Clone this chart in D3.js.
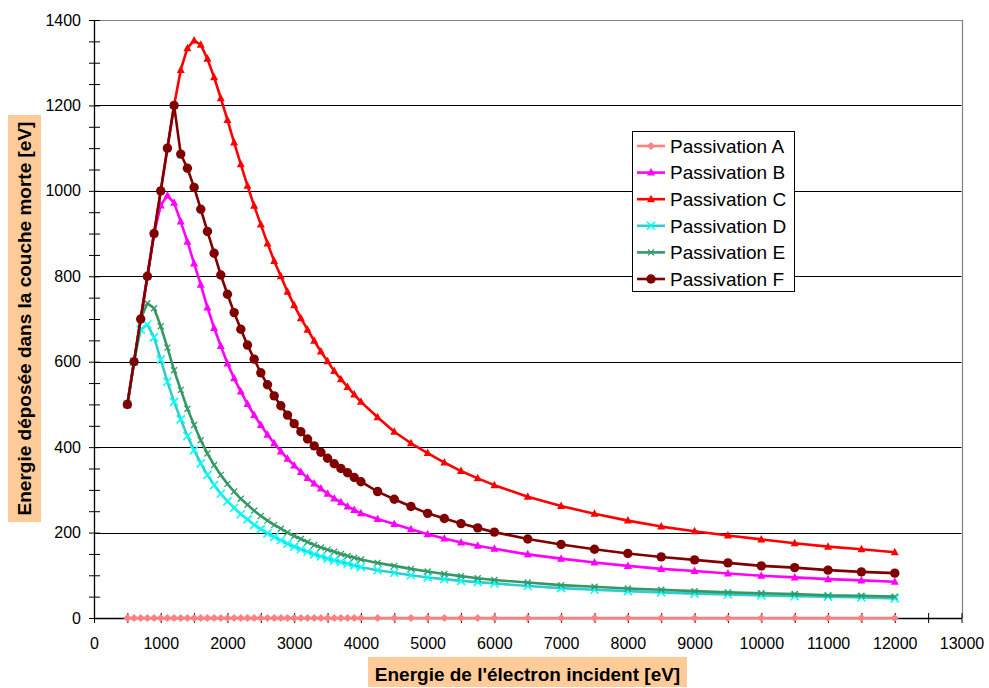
<!DOCTYPE html>
<html><head><meta charset="utf-8">
<script src="https://cdn.jsdelivr.net/npm/d3@7"></script>
<style>
body{margin:0;background:#fff;}
svg text{font-family:"Liberation Sans",Arial,Helvetica,sans-serif;}
</style>
</head><body>
<svg id="chart" width="989" height="688"></svg>
<script>
// ---------- data ----------
const xValues = [500,600,700,800,900,1000,1100,1200,1300,1400,1500,1600,1700,1800,1900,2000,2100,2200,2300,2400,2500,2600,2700,2800,2900,3000,3100,3200,3300,3400,3500,3600,3700,3800,3900,4000,
  4250,4500,4750,5000,5250,5500,5750,6000,
  6500,7000,7500,8000,8500,9000,9500,10000,10500,11000,11500,12000];

const seriesNames = ["Passivation A","Passivation B","Passivation C","Passivation D","Passivation E","Passivation F"];

const passA = [0,0,0,0,0,0,0,0,0,0,0,0,0,0,0,0,0,0,0,0,0,0,0,0,0,0,0,0,0,0,0,0,0,0,0,0,
  0,0,0,0,0,0,0,0,
  0,0,0,0,0,0,0,0,0,0,0,0];
const passB = [500,600,700,800,900,966,989,972,928,881,830,780,727,679,637,596,561,530,501,475,452,429,409,390,373,357,342,328,315,303,291,280,271,261,253,245,
  232,220,208,196,186,177,169,162,
  149,139,130,122,115,110,104,99,95,91,88,85];
const passC = [500,600,700,800,900,1000,1100,1200,1283,1334,1352,1342,1309,1266,1217,1166,1113,1062,1012,965,921,877,836,800,764,732,702,675,649,624,601,578,559,541,523,506,
  470,436,409,386,364,344,327,311,
  284,262,244,228,214,203,193,184,175,167,161,154];
const passD = [500,600,675,687,657,605,553,506,465,426,393,362,335,311,291,273,258,243,231,218,208,198,190,182,174,167,161,155,149,144,139,135,131,127,123,119,
  112,106,100,95,91,87,84,81,
  75,70,66,63,60,57,55,53,51,50,48,46];
const passE = [500,600,700,737,725,683,633,580,534,490,452,416,385,358,335,314,296,279,265,251,239,228,218,209,200,192,185,178,171,165,160,155,150,145,141,137,
  129,122,115,109,103,98,93,89,
  83,77,73,69,66,63,60,58,56,53,52,50];
const passF = [500,600,700,800,900,1000,1100,1200,1086,1053,1008,957,905,854,803,758,715,676,639,606,574,546,520,497,475,455,436,419,403,388,374,361,350,340,329,319,
  296,278,261,245,233,221,211,201,
  185,172,161,151,143,136,129,122,118,112,108,105];

const yTickValues = [0,200,400,600,800,1000,1200,1400];
const xTickValues = [0,1000,2000,3000,4000,5000,6000,7000,8000,9000,10000,11000,12000,13000];
const xTitle = "Energie de l'électron incident [eV]";
const yTitle = "Energie déposée dans la couche morte [eV]";

// ---------- styles ----------
const styles = [
  {line:"#FF8080", mark:"#FF8080", shape:"diamond"},
  {line:"#FF00FF", mark:"#FF00FF", shape:"triangle"},
  {line:"#FF0000", mark:"#FF0000", shape:"triangle"},
  {line:"#33CCCC", mark:"#00FFFF", shape:"x"},
  {line:"#339966", mark:"#339966", shape:"xs"},
  {line:"#800000", mark:"#800000", shape:"circle"}
];
const allSeries = [passA,passB,passC,passD,passE,passF];

const svg = d3.select("#chart");
const x = d3.scaleLinear().domain([0,13000]).range([94,961.5]);
const y = d3.scaleLinear().domain([0,1400]).range([618,20]);

// gridlines
svg.append("g").selectAll("line").data(yTickValues.filter(v=>v>0 && v<1400)).join("line")
  .attr("x1",x(0)).attr("x2",x(13000))
  .attr("y1",d=>Math.round(y(d))+0.5).attr("y2",d=>Math.round(y(d))+0.5)
  .attr("stroke","#000").attr("stroke-width",1);
// plot border top/right
svg.append("path")
  .attr("d",`M${x(0)},${Math.round(y(1400))+0.5}H${Math.round(x(13000))+0.5}V${y(0)}`)
  .attr("fill","none").attr("stroke","#808080").attr("stroke-width",1.2);

// Y axis
const yMinor = d3.range(0,1401,50);
const yAxisMinor = svg.append("g").attr("transform",`translate(${x(0)},0)`)
  .call(d3.axisLeft(y).tickValues(yMinor).tickFormat("").tickSize(0));
yAxisMinor.select(".domain").remove();
yAxisMinor.selectAll(".tick line").attr("x1",-5).attr("x2",6).attr("stroke","#000");
const yAxis = svg.append("g").attr("transform",`translate(${x(0)},0)`)
  .call(d3.axisLeft(y).tickValues(yTickValues).tickFormat(d3.format("d")).tickSize(0).tickPadding(13));
yAxis.select(".domain").attr("stroke","#000").attr("stroke-width",1.3);
yAxis.selectAll(".tick text").attr("font-size",16).attr("fill","#000")
  .style("font-family","'Liberation Sans',Arial,sans-serif");

// X axis
const xMinor = d3.range(0,13001,500);
const xAxisMinor = svg.append("g").attr("transform",`translate(0,${y(0)})`)
  .call(d3.axisBottom(x).tickValues(xMinor).tickFormat("").tickSize(0));
xAxisMinor.select(".domain").remove();
xAxisMinor.selectAll(".tick line").attr("y1",-5).attr("y2",5).attr("stroke","#000");
const xAxis = svg.append("g").attr("transform",`translate(0,${y(0)})`)
  .call(d3.axisBottom(x).tickValues(xTickValues).tickFormat(d3.format("d")).tickSize(0).tickPadding(20));
xAxis.select(".domain").attr("stroke","#000").attr("stroke-width",1.3);
xAxis.selectAll(".tick text").attr("font-size",16).attr("fill","#000")
  .style("font-family","'Liberation Sans',Arial,sans-serif");

// marker drawing
function drawMarker(g, shape, color, cx, cy){
  if(shape==="diamond"){
    g.append("path").attr("d",`M${cx},${cy-4}L${cx+4},${cy}L${cx},${cy+4}L${cx-4},${cy}Z`).attr("fill",color);
  } else if(shape==="triangle"){
    g.append("path").attr("d",`M${cx},${cy-4.5}L${cx+4},${cy+3}L${cx-4},${cy+3}Z`).attr("fill",color);
  } else if(shape==="circle"){
    g.append("circle").attr("cx",cx).attr("cy",cy).attr("r",4.7).attr("fill",color);
  } else if(shape==="x"){
    g.append("path").attr("d",`M${cx-4},${cy-4}L${cx+4},${cy+4}M${cx-4},${cy+4}L${cx+4},${cy-4}`)
      .attr("stroke",color).attr("stroke-width",1.6).attr("fill","none");
  } else if(shape==="xs"){
    g.append("path").attr("d",`M${cx-3},${cy-3}L${cx+3},${cy+3}M${cx-3},${cy+3}L${cx+3},${cy-3}`)
      .attr("stroke",color).attr("stroke-width",1.3).attr("fill","none");
  }
}

const line = d3.line().x(d=>x(d[0])).y(d=>y(d[1]));
allSeries.forEach((vals,i)=>{
  const pts = xValues.map((xv,j)=>[xv,vals[j]]);
  const g = svg.append("g");
  g.append("path").attr("d",line(pts)).attr("fill","none")
    .attr("stroke",styles[i].line).attr("stroke-width",2.6).attr("stroke-linejoin","round");
  pts.forEach(p=>drawMarker(g,styles[i].shape,styles[i].mark,x(p[0]),y(p[1])));
});

// legend
const lg = svg.append("g");
lg.append("rect").attr("x",632.5).attr("y",131.5).attr("width",162).attr("height",160)
  .attr("fill","#fff").attr("stroke","#000").attr("stroke-width",1);
seriesNames.forEach((name,i)=>{
  const cy = 146 + i*26.6;
  lg.append("line").attr("x1",637).attr("x2",665).attr("y1",cy).attr("y2",cy)
    .attr("stroke",styles[i].line).attr("stroke-width",2.6);
  drawMarker(lg,styles[i].shape,styles[i].mark,651,cy);
  lg.append("text").attr("x",670).attr("y",cy).attr("dy","0.36em")
    .attr("font-size",19).attr("fill","#000").text(name);
});

// axis titles
const xt = svg.append("g");
xt.append("rect").attr("x",368).attr("y",657).attr("width",319).attr("height",30).attr("fill","#FFCC99");
xt.append("text").attr("x",527.5).attr("y",681).attr("text-anchor","middle")
  .attr("font-size",19).attr("font-weight","bold").attr("fill","#000").text(xTitle);

const yt = svg.append("g").attr("transform","translate(24.5,318.5) rotate(-90)");
yt.append("rect").attr("x",-203.5).attr("y",-16.5).attr("width",407).attr("height",33).attr("fill","#FFCC99");
yt.append("text").attr("x",0).attr("y",0).attr("dy","0.36em").attr("text-anchor","middle")
  .attr("font-size",19).attr("font-weight","bold").attr("fill","#000").text(yTitle);
</script>
</body></html>
